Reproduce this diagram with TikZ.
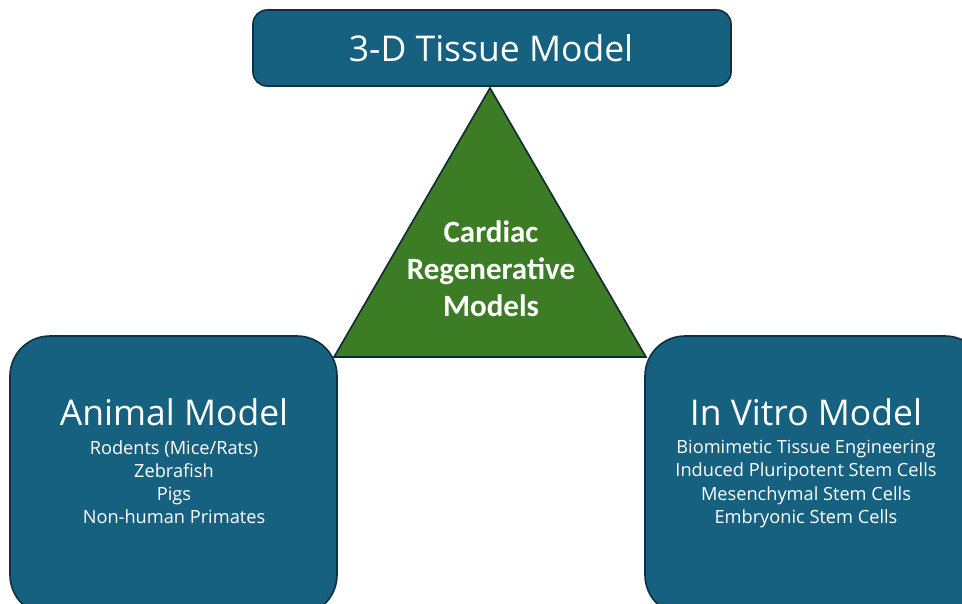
\documentclass[tikz,border=0pt]{standalone}
\usepackage{fontspec}
\setmainfont{Open Sans}
\newfontfamily\trifont{Carlito}
\definecolor{boxblue}{RGB}{22,96,128}
\definecolor{boxline}{RGB}{14,48,66}
\definecolor{trigreen}{RGB}{60,124,36}
\definecolor{triline}{RGB}{18,40,52}
\begin{document}
\begin{tikzpicture}[x=1pt,y=-1pt,
  bluebox/.style={draw=boxline,line width=1.6pt,fill=boxblue},
  titletext/.style={text=white,font=\fontsize{35.5}{40}\selectfont,inner sep=0pt},
  listtext/.style={text=white,font=\fontsize{18.2}{23.3}\selectfont,align=center,inner sep=0pt},
  tritext/.style={text=white,font=\trifont\bfseries\fontsize{31}{37}\selectfont,align=center,inner sep=0pt}]
\useasboundingbox (0,0) rectangle (962,603);
% top box
\draw[bluebox,rounded corners=14pt] (253,10) rectangle (731,86);
\node[titletext] (top) at (491,48) {3-D Tissue Model};
% left box
\draw[bluebox,rounded corners=40pt] (10,336) rectangle (337,615);
\node[titletext] (animal) at (174,412) {Animal Model};
\node[listtext,anchor=north] (animallist) at (174,440) {Rodents (Mice/Rats)\\Zebrafish\\Pigs\\Non-human Primates};
% right box
\draw[bluebox,rounded corners=40pt] (645,336) rectangle (985,615);
\node[titletext] (vitro) at (806,412) {In Vitro Model};
\node[listtext,anchor=north] (vitrolist) at (806,440) {Biomimetic Tissue Engineering\\Induced Pluripotent Stem Cells\\Mesenchymal Stem Cells\\Embryonic Stem Cells};
% triangle
\coordinate (apex) at (490,88);
\coordinate (bl) at (334,357);
\coordinate (br) at (646,357);
\draw[fill=trigreen,draw=triline,line width=1.6pt,line join=miter] (apex) -- (bl) -- (br) -- cycle;
\node[tritext] (tri) at (491,269) {Cardiac\\Regenerative\\Models};
\end{tikzpicture}
\end{document}
